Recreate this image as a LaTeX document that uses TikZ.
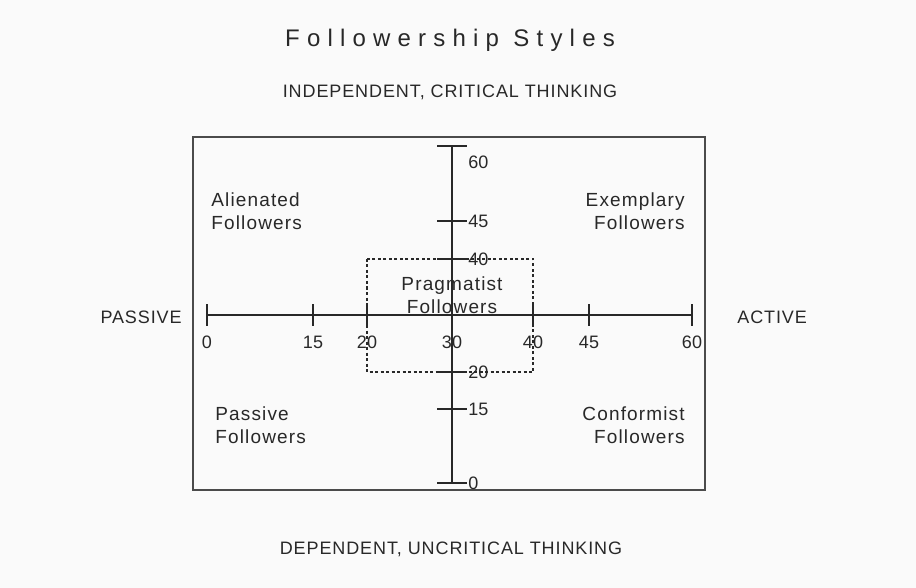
\documentclass[tikz,border=0pt]{standalone}
\usepackage{fontspec}
\setmainfont{Liberation Sans}
\newfontfamily\titlefont[LetterSpace=30]{Liberation Sans}
\newfontfamily\capsfont[LetterSpace=5]{Liberation Sans}
\newfontfamily\quadfont[LetterSpace=6]{Liberation Sans}
\definecolor{ink}{RGB}{40,40,40}
\definecolor{frame}{RGB}{75,75,75}
\definecolor{paper}{RGB}{250,250,250}

\begin{document}
\begin{tikzpicture}[x=1pt,y=-1pt,thick,
  caps/.style={font=\capsfont\fontsize{18}{22}\selectfont,text=ink,inner sep=0pt},
  quad/.style={font=\quadfont\fontsize{19}{23}\selectfont,text=ink,inner sep=0pt},
  num/.style={font=\fontsize{18}{22}\selectfont,text=ink,inner sep=1pt},
  axis/.style={ink,line width=2.2pt},
  tick/.style={ink,line width=1.6pt}]
\fill[paper] (0,0) rectangle (916,588);
\useasboundingbox (0,0) rectangle (916,588);
\node[font=\titlefont\fontsize{24}{28}\selectfont,text=ink] (title) at (450,40) {Followership\hspace{0.6em}Styles};
\node[caps] (indep) at (450,92) {INDEPENDENT, CRITICAL THINKING};
\node[caps] (dep) at (451,549) {DEPENDENT, UNCRITICAL THINKING};
\draw[frame,line width=2pt] (193,137) rectangle (705,490);
\draw[ink,line width=1.2pt,dash pattern=on 3pt off 2.5pt] (367,259) rectangle (533,372);
\coordinate (west) at (207,315);
\coordinate (east) at (692,315);
\coordinate (top) at (452,146);
\coordinate (bottom) at (452,483);
\draw[axis] (west) -- (east);
\draw[axis] (top) -- (bottom);
\foreach \x/\t in {207/0,313/15,367/20,452/30,533/40,589/45,692/60}{
  \draw[tick] (\x,304) -- (\x,326);
  \node[num] (h\t) at (\x,342) {\t};
}
\foreach \y/\t/\ly in {146/60/162,221/45/221,259/40/259,372/20/372,409/15/409,483/0/483}{
  \draw[tick] (437,\y) -- (467,\y);
  \node[num,anchor=west] (v\t) at (467,\ly) {\t};
}
\node[caps,anchor=east] (passive) at (182,317) {PASSIVE};
\node[caps,anchor=west] (active) at (737,317) {ACTIVE};
\node[quad,align=left,anchor=west] (alienated) at (211,211) {Alienated\\Followers};
\node[quad,align=right,anchor=east] (exemplary) at (685,211) {Exemplary\\Followers};
\node[quad,align=left,anchor=west] (passivef) at (215,425) {Passive\\Followers};
\node[quad,align=right,anchor=east] (conformist) at (685,425) {Conformist\\Followers};
\node[quad,align=center] (pragmatist) at (452,295) {Pragmatist\\Followers};
\end{tikzpicture}
\end{document}
